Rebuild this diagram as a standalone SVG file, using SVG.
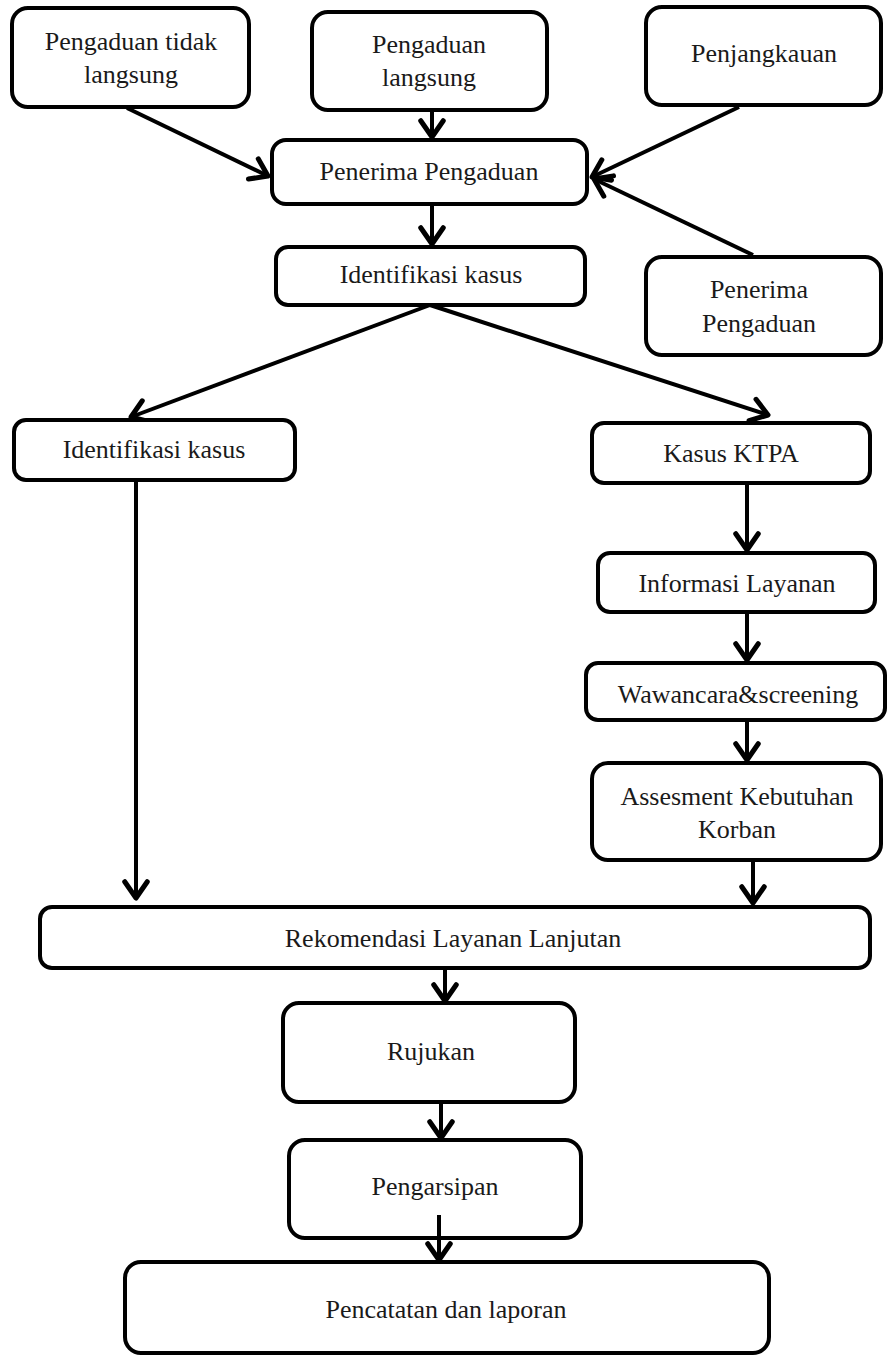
<svg xmlns="http://www.w3.org/2000/svg" width="887" height="1357" viewBox="0 0 887 1357">
<style>
.box{fill:#fff;stroke:#000;stroke-width:4}
.t{font-family:"Liberation Serif","Times New Roman",serif;font-size:26px;fill:#1a1a1a;text-anchor:middle}
.c{stroke:#000;stroke-width:4;fill:none;marker-end:url(#ah)}
</style>
<defs>
<marker id="ah" markerUnits="userSpaceOnUse" markerWidth="30" markerHeight="30" viewBox="-16 -12 20 24" refX="0" refY="0" orient="auto">
<path d="M-13,-9 L0,0 L-13,9" fill="none" stroke="#000" stroke-width="4" stroke-linecap="round" stroke-linejoin="round"/>
</marker>
</defs>
<rect width="887" height="1357" fill="#fff"/>
<g id="connectors">
<line class="c" x1="127" y1="108" x2="268" y2="176"/>
<line class="c" x1="432" y1="110" x2="432" y2="137"/>
<line class="c" x1="739" y1="107" x2="592" y2="177"/>
<line class="c" x1="753" y1="255" x2="594" y2="179"/>
<line class="c" x1="432" y1="204" x2="432" y2="244"/>
<line class="c" x1="430" y1="305" x2="131" y2="417"/>
<line class="c" x1="430" y1="305" x2="768" y2="415"/>
<line class="c" x1="136" y1="480" x2="136" y2="898"/>
<line class="c" x1="747" y1="483" x2="747" y2="550"/>
<line class="c" x1="747" y1="612" x2="747" y2="660"/>
<line class="c" x1="747" y1="720" x2="747" y2="760"/>
<line class="c" x1="753" y1="860" x2="753" y2="903"/>
<line class="c" x1="445" y1="968" x2="445" y2="1001"/>
<line class="c" x1="441" y1="1102" x2="441" y2="1138"/>
<line class="c" x1="439" y1="1215" x2="439" y2="1260"/>
</g>
<g id="n1"><rect class="box" x="12" y="8" width="237" height="99" rx="16"/><text class="t" x="131" y="50">Pengaduan tidak</text><text class="t" x="131" y="83">langsung</text></g>
<g id="n2"><rect class="box" x="312" y="12" width="235" height="98" rx="16"/><text class="t" x="429" y="53">Pengaduan</text><text class="t" x="429" y="86">langsung</text></g>
<g id="n3"><rect class="box" x="646" y="7" width="235" height="98" rx="16"/><text class="t" x="764" y="62">Penjangkauan</text></g>
<g id="n4"><rect class="box" x="272" y="140" width="315" height="64" rx="14"/><text class="t" x="429" y="180">Penerima Pengaduan</text></g>
<g id="n5"><rect class="box" x="276" y="247" width="309" height="58" rx="12"/><text class="t" x="431" y="283">Identifikasi kasus</text></g>
<g id="n6"><rect class="box" x="646" y="257" width="235" height="98" rx="16"/><text class="t" x="759" y="298">Penerima</text><text class="t" x="759" y="332">Pengaduan</text></g>
<g id="n7"><rect class="box" x="14" y="420" width="281" height="60" rx="12"/><text class="t" x="154" y="458">Identifikasi kasus</text></g>
<g id="n8"><rect class="box" x="592" y="423" width="278" height="60" rx="12"/><text class="t" x="731" y="462">Kasus KTPA</text></g>
<g id="n9"><rect class="box" x="598" y="553" width="277" height="59" rx="12"/><text class="t" x="737" y="592">Informasi Layanan</text></g>
<g id="n10"><rect class="box" x="586" y="663" width="299" height="57" rx="12"/><text class="t" x="738" y="703">Wawancara&amp;screening</text></g>
<g id="n11"><rect class="box" x="592" y="763" width="289" height="97" rx="16"/><text class="t" x="737" y="805">Assesment Kebutuhan</text><text class="t" x="737" y="838">Korban</text></g>
<g id="n12"><rect class="box" x="40" y="907" width="830" height="61" rx="12"/><text class="t" x="453" y="947">Rekomendasi Layanan Lanjutan</text></g>
<g id="n13"><rect class="box" x="283" y="1003" width="292" height="99" rx="16"/><text class="t" x="431" y="1060">Rujukan</text></g>
<g id="n14"><rect class="box" x="289" y="1140" width="292" height="98" rx="16"/><text class="t" x="435" y="1195">Pengarsipan</text></g>
<g id="n15"><rect class="box" x="125" y="1262" width="644" height="91" rx="16"/><text class="t" x="446" y="1318">Pencatatan dan laporan</text></g>
<line x1="439" y1="1215" x2="439" y2="1238" stroke="#000" stroke-width="4"/>
</svg>
